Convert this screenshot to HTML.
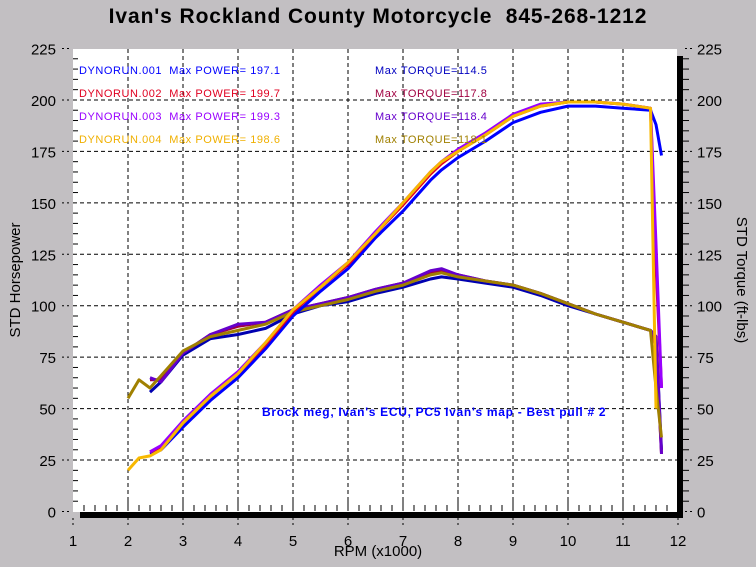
<!DOCTYPE html>
<html><head><meta charset="utf-8"><style>
body{margin:0;background:#c0c0c0;}
svg{display:block;font-family:"Liberation Sans",sans-serif;}
.lg{white-space:pre;letter-spacing:0.55px;}
</style></head><body>
<svg id="c" width="756" height="567">
<rect x="0" y="0" width="756" height="567" fill="#c2bfc2"/>
<text x="378" y="23" text-anchor="middle" font-size="21" font-weight="bold" fill="#000" style="white-space:pre;letter-spacing:0.9px">Ivan's Rockland County Motorcycle  845-268-1212</text>
<rect x="73" y="49" width="604" height="463" fill="#fff"/>
<rect x="80" y="512" width="603" height="6" fill="#000"/>
<rect x="677" y="56" width="6" height="462" fill="#000"/>
<g id="grid"></g><g id="axes"></g><g id="series"></g>
<g font-size="11" class="lg">
<text class="lg" x="79" y="74" fill="#0000ff">DYNORUN.001  Max POWER= 197.1</text>
<text class="lg" x="79" y="97" fill="#e00020">DYNORUN.002  Max POWER= 199.7</text>
<text class="lg" x="79" y="120" fill="#9900ff">DYNORUN.003  Max POWER= 199.3</text>
<text class="lg" x="79" y="143" fill="#f0b000">DYNORUN.004  Max POWER= 198.6</text>
<text class="lg" x="375" y="74" fill="#0000c0">Max TORQUE=114.5</text>
<text class="lg" x="375" y="97" fill="#a00040">Max TORQUE=117.8</text>
<text class="lg" x="375" y="120" fill="#6600cc">Max TORQUE=118.4</text>
<text class="lg" x="375" y="143" fill="#a08000">Max TORQUE=118.1</text>
</g>
<text x="262" y="416" font-size="12" font-weight="bold" fill="#0000ff" style="letter-spacing:0.7px">Brock meg, Ivan's ECU, PC5 Ivan's map - Best pull # 2</text>
<text x="378" y="556" text-anchor="middle" font-size="15" fill="#000">RPM (x1000)</text>
<text transform="translate(20,280) rotate(-90)" text-anchor="middle" font-size="15" fill="#000">STD Horsepower</text>
<text transform="translate(737,280) rotate(90)" text-anchor="middle" font-size="15" fill="#000">STD Torque (ft-lbs)</text>
</svg>
<script>
const rpm=[2.0,2.2,2.4,2.6,3.0,3.5,4.0,4.5,5.0,5.5,6.0,6.5,7.0,7.5,7.7,8.0,8.5,9.0,9.5,10.0,10.5,11.0,11.5,11.6,11.7];
const power1=[null,null,28,30,41,54,65,79,95,107,118,133,146,161,166,172,180,189,194,197,197,196,195,188,173];
const power2=[null,null,29,31,43,56,67,81,97,109,120,135,149,164,169,175,183,192,197,199,199,198,196,120,60];
const power3=[null,null,29,32,44,57,68,82,98,110,121,136,150,165,170,176,184,193,198,199,199,198,196,130,60];
const power4=[20,26,27,30,43,56,67,82,98,109,121,135,150,165,170,175,183,192,197,199,199,198,196,50,null];
const torque1=[null,null,58,63,76,84,86,89,96,100,102,106,109,113,114,113,111,109,105,100,96,92,88,85,30];
const torque2=[null,null,64,64,77,86,90,92,98,101,104,108,111,116,117,115,112,110,106,101,96,92,88,80,28];
const torque3=[null,null,65,63,77,86,91,92,98,101,104,108,111,117,118,115,112,110,106,101,96,92,88,85,28];
const torque4=[55,64,60,66,78,85,88,91,97,100,103,107,110,115,116,114,112,110,106,101,96,92,88,60,36];
const yTicks=[0,25,50,75,100,125,150,175,200,225];
const xTicks=[1,2,3,4,5,6,7,8,9,10,11,12];
const NS='http://www.w3.org/2000/svg';
const X=v=>73+(v-1)*55, Y=v=>511.5-v*(463/225);
function mk(t,a,p){const e=document.createElementNS(NS,t);for(const k in a)e.setAttribute(k,a[k]);p.appendChild(e);return e;}
const grid=document.getElementById('grid'),axes=document.getElementById('axes'),ser=document.getElementById('series');
yTicks.forEach(v=>{
 if(v>0&&v<225){const l=mk('line',{x1:73,x2:677,y1:Y(v),y2:Y(v),stroke:'#000','stroke-dasharray':'4,3','stroke-width':1},grid);
 }
 const a=mk('text',{x:56,y:Y(v)+6,'text-anchor':'end','font-size':15,fill:'#000'},axes);a.textContent=v;
 
 const b=mk('text',{x:697,y:Y(v)+6,'font-size':15,fill:'#000'},axes);b.textContent=v;
 
 mk('line',{x1:62,x2:70,y1:Y(v),y2:Y(v),stroke:'#000','stroke-dasharray':'2,3'},axes);
 mk('line',{x1:685,x2:693,y1:Y(v),y2:Y(v),stroke:'#000','stroke-dasharray':'2,3'},axes);
});
for(let v=5;v<225;v+=5){if(v%25){mk('line',{x1:73,x2:78,y1:Y(v),y2:Y(v),stroke:'#000'},grid);mk('line',{x1:683,x2:689,y1:Y(v),y2:Y(v),stroke:'#000'},grid);}}
xTicks.forEach(v=>{
 if(v>1&&v<12){const l=mk('line',{x1:X(v),x2:X(v),y1:49,y2:511,stroke:'#000','stroke-dasharray':'4,3'},grid);
 
 mk('line',{x1:X(v),x2:X(v),y1:498,y2:511,stroke:'#000'},grid);}
 mk('line',{x1:X(v),x2:X(v),y1:518,y2:528,stroke:'#000','stroke-dasharray':'2,3'},axes);
 const t=mk('text',{x:X(v),y:546,'text-anchor':'middle','font-size':15,fill:'#000'},axes);t.textContent=v;
 
});
for(let v=1.2;v<12;v+=0.2){if(Math.abs(v-Math.round(v))>0.05)mk('line',{x1:X(v),x2:X(v),y1:505,y2:511,stroke:'#000'},grid);}
const series=[[torque1,'#0000b0'],[torque2,'#a00040'],[torque3,'#6600cc'],[torque4,'#a08000'],[power1,'#0000ff'],[power2,'#e00020'],[power3,'#9900ff'],[power4,'#f8b800']];
const names=['torque-run1','torque-run2','torque-run3','torque-run4','power-run1','power-run2','power-run3','power-run4'];
series.forEach((s,i)=>{
 let d='';s[0].forEach((v,j)=>{if(v==null)return;d+=(d?'L':'M')+X(rpm[j]).toFixed(1)+','+Y(v).toFixed(1);});
 const p=mk('path',{d:d,fill:'none',stroke:s[1],'stroke-width':3,'stroke-linejoin':'round'},ser);
 
 
});
</script>
</body></html>
